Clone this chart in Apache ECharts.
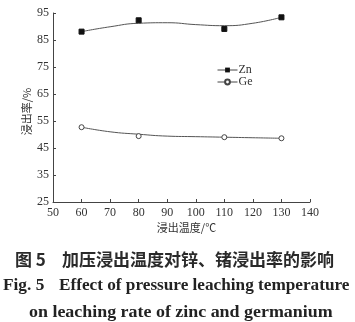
<!DOCTYPE html>
<html>
<head>
<meta charset="utf-8">
<style>
  html, body { margin: 0; padding: 0; background: #fff; }
  #chart { width: 355px; height: 322px; }
</style>
<script src="https://cdn.jsdelivr.net/npm/echarts@6/dist/echarts.min.js"></script>
</head>
<body>
<div id="chart"></div>
<script>
// Leaching temperature, °C
const temps = [60, 80, 110, 130];
// Measured leaching rates, %
const znRate = [88.1, 92.3, 89.1, 93.4];
const geRate = [52.7, 49.4, 49.0, 48.6];
// Fitted trend curves, read at 10 °C steps
const curveTemps = [60, 70, 80, 90, 100, 110, 120, 130];
const znCurve = [88.1, 89.9, 91.2, 91.4, 90.7, 90.3, 91.2, 93.4];
const geCurve = [52.7, 51.0, 50.1, 49.4, 49.2, 49.0, 48.8, 48.6];
// Axis ticks
const xTicks = { min: 50, max: 140, step: 10 };
const yTicks = { min: 25, max: 95, step: 10 };

const serif = '"Liberation Serif", "DejaVu Serif", serif';
const cjk = '"Noto Sans CJK SC", sans-serif';
const axisColor = '#444';
const textColor = '#333';

const pair = (xs, ys) => xs.map((x, i) => [x, ys[i]]);

const chart = echarts.init(document.getElementById('chart'), null, { renderer: 'canvas' });
chart.setOption({
  backgroundColor: '#fff',
  animation: false,
  grid: { left: 53, right: 45, top: 13, bottom: 120 },
  legend: {
    orient: 'vertical',
    left: 212,
    top: 59,
    itemWidth: 20,
    itemHeight: 6,
    itemGap: 0,
    data: ['Zn', 'Ge'],
    textStyle: { fontFamily: serif, fontSize: 12, lineHeight: 11, color: textColor, padding: [0, 0, 0, -4] },
    lineStyle: { width: 1, color: '#444', opacity: 1 }
  },
  xAxis: {
    type: 'value',
    min: xTicks.min, max: xTicks.max, interval: xTicks.step,
    name: '浸出温度/℃',
    nameLocation: 'middle',
    nameGap: 20,
    nameMoveOverlap: false,
    nameTextStyle: { fontFamily: cjk, fontSize: 11, color: textColor, padding: [0, 0, 0, 10] },
    axisLine: { lineStyle: { color: axisColor, width: 1 } },
    axisTick: { inside: true, length: 3, lineStyle: { color: axisColor } },
    axisLabel: { fontFamily: serif, fontSize: 12, color: textColor, margin: 5 },
    splitLine: { show: false }
  },
  yAxis: {
    type: 'value',
    min: yTicks.min, max: yTicks.max, interval: yTicks.step,
    name: '浸出率/%',
    nameLocation: 'middle',
    nameGap: 21,
    nameMoveOverlap: false,
    nameRotate: 90,
    nameTextStyle: { fontFamily: cjk, fontSize: 11, color: textColor, padding: [0, 0, 0, -8] },
    axisLine: { show: true, lineStyle: { color: axisColor, width: 1 } },
    axisTick: { show: true, inside: true, length: 3, lineStyle: { color: axisColor } },
    axisLabel: { fontFamily: serif, fontSize: 12, color: textColor, margin: 4 },
    splitLine: { show: false }
  },
  series: [
    {
      name: 'Zn-fit', type: 'line', smooth: true, showSymbol: false,
      data: pair(curveTemps, znCurve),
      lineStyle: { color: '#555', width: 1 }, z: 2, silent: true
    },
    {
      name: 'Ge-fit', type: 'line', smooth: true, showSymbol: false,
      data: pair(curveTemps, geCurve),
      lineStyle: { color: '#555', width: 1 }, z: 2, silent: true
    },
    {
      name: 'Zn', type: 'line',
      data: pair(temps, znRate),
      symbol: 'rect', symbolSize: 5,
      itemStyle: { color: '#111', borderColor: '#111' },
      lineStyle: { width: 0, color: '#444' }, z: 3
    },
    {
      name: 'Ge', type: 'line',
      data: pair(temps, geRate),
      symbol: 'circle', symbolSize: 5,
      itemStyle: { color: '#fff', borderColor: '#444', borderWidth: 1 },
      lineStyle: { width: 0, color: '#444' }, z: 3
    }
  ],
  graphic: [
    { type: 'text', left: 15, top: 251,
      style: { text: '图 5', fontSize: 17, fontFamily: cjk, fontWeight: 'bold', fill: '#2a2a2a' } },
    { type: 'text', left: 62, top: 251,
      style: { text: '加压浸出温度对锌、锗浸出率的影响', fontSize: 17, fontFamily: cjk, fontWeight: 'bold', fill: '#2a2a2a' } },
    { type: 'text', x: 3, y: 278, scaleX: 1.08,
      style: { text: 'Fig. 5', font: 'bold 16px ' + serif, fill: '#222' } },
    { type: 'text', x: 59, y: 278, scaleX: 1.075,
      style: { text: 'Effect of pressure leaching temperature', font: 'bold 16px ' + serif, fill: '#222' } },
    { type: 'text', x: 29, y: 305, scaleX: 1.12,
      style: { text: 'on leaching rate of zinc and germanium', font: 'bold 16px ' + serif, fill: '#222' } }
  ]
});
</script>
</body>
</html>
